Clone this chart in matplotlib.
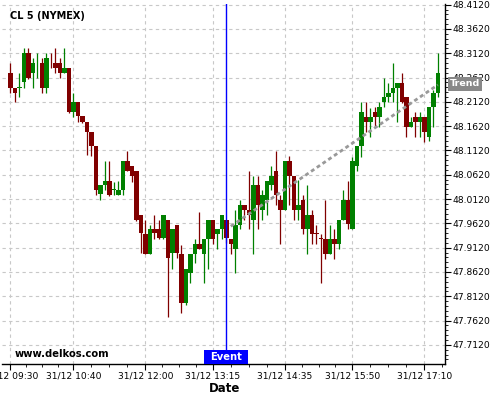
import matplotlib
matplotlib.use('Agg')
import numpy as np
import matplotlib.pyplot as plt
import matplotlib.transforms as mtransforms
from matplotlib.patches import Rectangle
from matplotlib.ticker import FixedLocator, FormatStrFormatter

# 5-minute bars, 31/12 09:30 .. 17:25
TICK_BARS = [0, 14, 30, 45, 61, 76, 92]
TICK_LABELS = ['31/12 09:30', '31/12 10:40', '31/12 12:00', '31/12 13:15',
               '31/12 14:35', '31/12 15:50', '31/12 17:10']

OPENS = [
    48.272, 48.241, 48.240, 48.252, 48.312, 48.272, 48.291, 48.291, 48.241, 48.293,
    48.291, 48.291, 48.272, 48.281, 48.192, 48.212, 48.182, 48.171, 48.150, 48.121,
    48.022, 48.041, 48.049, 48.031, 48.020, 48.031, 48.090, 48.080, 48.070, 47.979,
    47.940, 47.899, 47.950, 47.950, 47.932, 47.969, 47.901, 47.959, 47.899, 47.798,
    47.860, 47.899, 47.919, 47.899, 47.930, 47.969, 47.940, 47.950, 47.969, 47.930,
    47.909, 47.959, 48.000, 47.989, 47.969, 48.041, 47.989, 48.010, 48.041, 48.070,
    48.010, 47.989, 48.090, 48.059, 47.989, 48.010, 47.950, 47.979, 47.942, 47.931,
    47.930, 47.899, 47.930, 47.919, 47.969, 48.010, 47.950, 48.080, 48.121, 48.181,
    48.171, 48.191, 48.181, 48.212, 48.222, 48.230, 48.241, 48.251, 48.222, 48.160,
    48.181, 48.171, 48.181, 48.140, 48.201, 48.230,
]
CLOSES = [
    48.241, 48.231, 48.242, 48.312, 48.262, 48.291, 48.293, 48.241, 48.302, 48.291,
    48.282, 48.272, 48.281, 48.192, 48.212, 48.182, 48.171, 48.150, 48.121, 48.031,
    48.041, 48.049, 48.020, 48.033, 48.031, 48.090, 48.070, 48.059, 47.969, 47.942,
    47.899, 47.950, 47.942, 47.932, 47.979, 47.891, 47.950, 47.901, 47.798, 47.868,
    47.899, 47.919, 47.909, 47.930, 47.969, 47.930, 47.950, 47.979, 47.932, 47.919,
    47.959, 48.000, 47.989, 47.979, 48.041, 48.000, 48.020, 48.049, 48.059, 48.020,
    47.989, 48.090, 48.059, 47.989, 48.000, 47.950, 47.979, 47.940, 47.940, 47.929,
    47.899, 47.930, 47.919, 47.969, 48.010, 47.961, 48.090, 48.121, 48.191, 48.171,
    48.181, 48.181, 48.201, 48.222, 48.230, 48.241, 48.251, 48.212, 48.160, 48.171,
    48.171, 48.181, 48.150, 48.201, 48.230, 48.271,
]
HIGHS = [
    48.291, 48.241, 48.271, 48.322, 48.322, 48.302, 48.312, 48.302, 48.312, 48.312,
    48.322, 48.302, 48.322, 48.281, 48.230, 48.212, 48.182, 48.171, 48.150, 48.121,
    48.041, 48.090, 48.090, 48.048, 48.049, 48.090, 48.111, 48.080, 48.070, 47.979,
    47.969, 47.959, 47.979, 47.969, 47.979, 47.969, 47.950, 47.959, 47.917, 47.868,
    47.899, 47.930, 47.986, 47.930, 47.969, 47.969, 47.950, 47.979, 47.969, 47.930,
    47.989, 48.010, 48.000, 48.070, 48.059, 48.059, 48.031, 48.049, 48.080, 48.111,
    48.020, 48.090, 48.101, 48.059, 48.051, 48.020, 48.041, 47.989, 47.959, 47.940,
    48.010, 47.959, 47.950, 47.969, 48.031, 48.049, 48.098, 48.121, 48.212, 48.212,
    48.199, 48.201, 48.212, 48.261, 48.251, 48.292, 48.251, 48.271, 48.222, 48.181,
    48.191, 48.191, 48.181, 48.201, 48.236, 48.313,
]
LOWS = [
    48.230, 48.211, 48.221, 48.240, 48.259, 48.240, 48.261, 48.230, 48.230, 48.281,
    48.271, 48.261, 48.271, 48.190, 48.180, 48.170, 48.169, 48.103, 48.101, 48.020,
    48.010, 48.031, 48.018, 48.020, 48.020, 48.020, 48.070, 48.048, 47.967, 47.901,
    47.899, 47.899, 47.930, 47.930, 47.930, 47.769, 47.868, 47.891, 47.777, 47.795,
    47.839, 47.880, 47.909, 47.839, 47.868, 47.919, 47.909, 47.930, 47.921, 47.899,
    47.860, 47.950, 47.969, 47.950, 47.899, 47.950, 47.969, 47.979, 48.031, 48.000,
    47.919, 47.989, 48.000, 47.969, 47.969, 47.940, 47.899, 47.919, 47.919, 47.839,
    47.889, 47.899, 47.889, 47.909, 47.969, 47.950, 47.950, 48.070, 48.098, 48.150,
    48.140, 48.160, 48.160, 48.201, 48.212, 48.212, 48.171, 48.210, 48.140, 48.160,
    48.140, 48.140, 48.129, 48.131, 48.160, 48.222,
]

EVENT_BAR = 48
TREND_BARS = [49, 95]
TREND_PRICES = [47.956, 48.247]
TREND_LABEL_PRICE = 48.249

RED = '#800000'
GREEN = '#008000'
BLUE = '#0000ff'

YLIM = (47.6726, 48.4134)
XLIM = (-1.84, 96.6)

fig = plt.figure(figsize=(5, 4), dpi=100)
ax = fig.add_axes([0.004, 0.09, 0.886, 0.90])

bars = np.arange(len(OPENS))
opens = np.array(OPENS)
closes = np.array(CLOSES)
colors = [GREEN if c >= o else RED for o, c in zip(opens, closes)]

ax.vlines(bars, LOWS, HIGHS, colors=colors, linewidth=0.9, zorder=3)
body_low = np.minimum(opens, closes)
body_h = np.maximum(np.abs(closes - opens), 0.0018)
ax.bar(bars, body_h, bottom=body_low, width=1.0, color=colors,
       linewidth=0, zorder=3)

# trend line and event marker
ax.plot(TREND_BARS, TREND_PRICES, color='#999999', linewidth=2,
        linestyle=(0, (1.4, 1.1)), zorder=4)
ax.axvline(EVENT_BAR, color=BLUE, linewidth=1, zorder=5)

ax.set_xlim(*XLIM)
ax.set_ylim(*YLIM)

# axes styling
for side in ('left', 'top'):
    ax.spines[side].set_visible(False)
for side in ('right', 'bottom'):
    ax.spines[side].set_linewidth(1.0)

ax.yaxis.tick_right()
ax.yaxis.set_major_locator(FixedLocator(np.arange(47.712, 48.42, 0.05)))
ax.yaxis.set_minor_locator(FixedLocator(np.arange(47.682, 48.42, 0.01)))
ax.yaxis.set_major_formatter(FormatStrFormatter('%.4f'))

minor_x = []
for a, b in zip(TICK_BARS[:-1], TICK_BARS[1:]):
    minor_x += [a + (b - a) * k / 4 for k in (1, 2, 3)]
minor_x.append(TICK_BARS[-1] + 4)
ax.xaxis.set_major_locator(FixedLocator(TICK_BARS))
ax.xaxis.set_minor_locator(FixedLocator(minor_x))
ax.set_xticklabels(TICK_LABELS)

ax.tick_params(which='major', length=4, width=0.8, pad=1.5, labelsize=6.6)
ax.tick_params(which='minor', length=2, width=0.6)

ax.grid(True, which='major', color='#c8c8c8', linestyle=(0, (3, 3)),
        linewidth=0.8, zorder=0)
ax.set_axisbelow(True)

ax.set_xlabel('Date', fontsize=8.5, fontweight='bold')
ax.xaxis.set_label_coords(0.503, -0.069)
ax.xaxis.label.set_va('center')

# labels
fig.text(10 / 500, 1 - 16 / 400, 'CL 5 (NYMEX)', fontsize=7,
         fontweight='bold', va='center', ha='left')
fig.text(15 / 500, 1 - 354 / 400, 'www.delkos.com', fontsize=7.2,
         fontweight='bold', va='center', ha='left')

ev_trans = mtransforms.blended_transform_factory(ax.transData, ax.transAxes)
ax.add_patch(Rectangle((EVENT_BAR - 22 / 4.5, 0), 44 / 4.5, 14 / 360,
                       transform=ev_trans, facecolor=BLUE, edgecolor='none',
                       zorder=6, clip_on=False))
ax.text(EVENT_BAR, 7 / 360, 'Event', transform=ev_trans, color='white',
        fontsize=7.2, fontweight='bold', ha='center', va='center', zorder=7)

tr_trans = mtransforms.blended_transform_factory(fig.transFigure, ax.transData)
ax.add_patch(Rectangle((448 / 500, TREND_LABEL_PRICE - 0.0144), 34 / 500, 0.0288,
                       transform=tr_trans, facecolor='#888888', edgecolor='none',
                       zorder=6, clip_on=False))
ax.text(465 / 500, TREND_LABEL_PRICE, 'Trend', transform=tr_trans, color='white',
        fontsize=6.8, fontweight='bold', ha='center', va='center', zorder=7,
        clip_on=False)

fig.savefig('out.png', dpi=100)
